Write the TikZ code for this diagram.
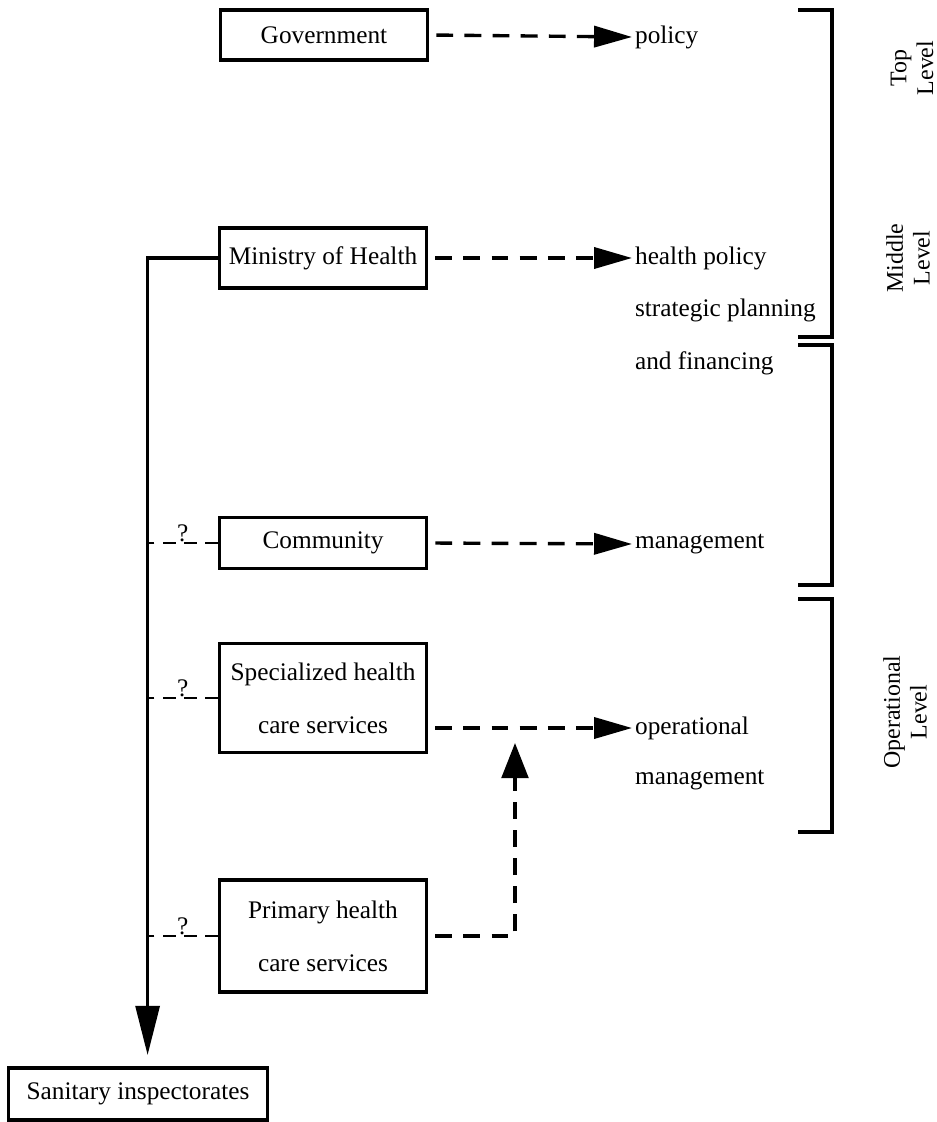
\documentclass[tikz,border=0pt]{standalone}
\usepackage{fontspec}
\setmainfont{Liberation Serif}
\usetikzlibrary{arrows.meta,positioning}

\begin{document}
\begin{tikzpicture}[x=0.025cm,y=-0.025cm,font=\fontsize{18}{22}\selectfont,
  box/.style={draw,line width=2.4pt,minimum width=5.18cm,inner sep=2pt},
  twoline/.style={align=center,font=\fontsize{18}{37.5}\selectfont},
  txt/.style={anchor=west,inner sep=2pt},
  flow/.style={line width=2.4pt,dash pattern=on 12pt off 8pt,shorten <=5pt,-{Triangle[length=27pt,width=15pt]}},
  link/.style={line width=2pt,dash pattern=on 9pt off 6pt},
  trunk/.style={line width=2.4pt,shorten >=8pt,-{Triangle[length=35pt,width=17pt]}},
  bracket/.style={line width=2.4pt},
  lvl/.style={rotate=90,align=center,font=\fontsize{17}{19}\selectfont}]
\useasboundingbox (0,0) rectangle (936,1122);
\node[box,minimum height=1.25cm] (gov) at (324,35) {Government};
\node[box,minimum height=1.5cm] (moh) at (323,258) {Ministry of Health};
\node[box,minimum height=1.28cm] (com) at (323,543) {Community};
\node[box,twoline,minimum height=2.73cm] (spec) at (323,698) {Specialized health\\care services};
\node[box,twoline,minimum height=2.8cm] (phc) at (323,936) {Primary health\\care services};
\node[box,minimum width=6.48cm,minimum height=1.3cm] (san) at (138,1094) {Sanitary inspectorates};

\node[txt] (pol) at (632,37) {policy};
\node[txt] (hp) at (632,258) {health policy};
\node[txt] (sp) at (632,310) {strategic planning};
\node[txt] (fin) at (632,363) {and financing};
\node[txt] (mgt) at (632,544) {management};
\node[txt] (op) at (632,728) {operational};
\node[txt] (opm) at (632,780) {management};
\coordinate (jn) at (515,743);

\draw[flow] (gov.east) -- (pol.west);
\draw[flow] (moh.east) -- (hp.west);
\draw[flow] (com.east) -- (mgt.west);
\draw[flow] (spec.east |- op.west) -- (op.west);
\draw[flow,-{Triangle[length=25pt,width=19pt]}] (phc.east) -| (jn);

\draw[trunk] (moh.west) -| ([xshift=0.24cm]san.north);
\draw[link] (com.west) -- ++(-70,0) node[midway,above,inner sep=0pt] {?};
\draw[link] (spec.west) -- ++(-70,0) node[midway,above,inner sep=0pt] {?};
\draw[link] (phc.west) -- ++(-70,0) node[midway,above,inner sep=0pt] {?};

\foreach \a/\b in {10/337,345/585,599/832}
  \draw[bracket] (798,\a) -| (832,\b) -- (798,\b);
\node[lvl] (top) at (912,68) {Top\\Level};
\node[lvl] (mid) at (908,258) {Middle\\Level};
\node[lvl] (ops) at (905,712) {Operational\\Level};
\end{tikzpicture}
\end{document}
